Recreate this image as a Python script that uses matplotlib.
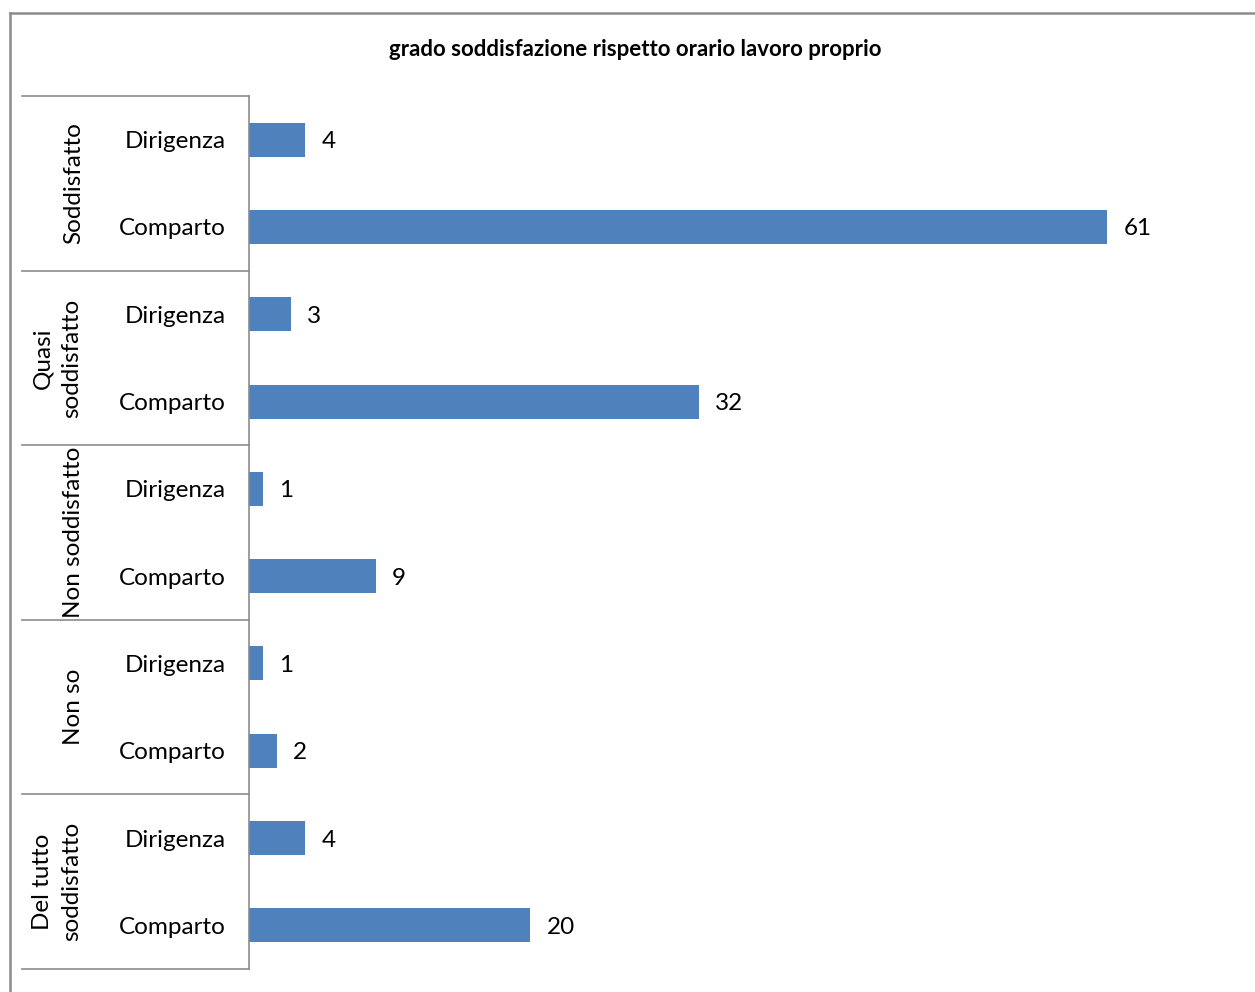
import matplotlib.pyplot as plt
from matplotlib.lines import Line2D

# Survey answers, listed top to bottom as they appear on the chart
groups = ['Soddisfatto', 'Quasi\nsoddisfatto', 'Non soddisfatto', 'Non so', 'Del tutto\nsoddisfatto']
roles = ['Dirigenza', 'Comparto']
dirigenza = [4, 3, 1, 1, 4]
comparto = [61, 32, 9, 2, 20]

title = 'grado soddisfazione rispetto orario lavoro proprio'
bar_color = '#4F81BD'
line_color = '#8C8C8C'
font = ['Lato', 'DejaVu Sans']
fs = 17.5

W, H = 1255, 992
fig = plt.figure(figsize=(W / 100, H / 100), dpi=100)

# plot area in pixels: left 249, right 1234, top 96, bottom 969
ax = fig.add_axes([249 / W, 1 - 969 / H, (1234 - 249) / W, (969 - 96) / H])

n = len(groups) * len(roles)
labels, values = [], []
for d, c in zip(dirigenza, comparto):
    labels += roles
    values += [d, c]

ypos = list(range(n))
ax.barh(ypos, values, height=0.39, color=bar_color)
ax.set_ylim(n - 0.5, -0.5)
ax.set_xlim(0, 70)

for y, v in zip(ypos, values):
    ax.annotate(str(v), (v, y), xytext=(16, 0), textcoords='offset pixels',
                va='center_baseline', ha='left', fontsize=fs, family=font)

ax.set_yticks(ypos)
ax.set_yticklabels(labels, fontsize=fs, family=font)
ax.tick_params(axis='y', length=0, pad=17)
ax.set_xticks([])
for side in ['top', 'right', 'bottom']:
    ax.spines[side].set_visible(False)
ax.spines['left'].set_color(line_color)
ax.spines['left'].set_linewidth(1.2)

# group separators and rotated group names to the left of the axis
def px_to_fig(x, y):
    return x / W, 1 - y / H

top_px, bottom_px = 96, 969
step = (bottom_px - top_px) / len(groups)
for i in range(len(groups) + 1):
    y = top_px + i * step
    x0, yf = px_to_fig(22, y)
    x1, _ = px_to_fig(249, y)
    fig.add_artist(Line2D([x0, x1], [yf, yf], color=line_color, lw=1.2))

for i, g in enumerate(groups):
    yc = top_px + (i + 0.5) * step
    xc = 74 if '\n' not in g else 57
    fx, fy = px_to_fig(xc, yc)
    fig.text(fx, fy, g, rotation=90, ha='center', va='center', fontsize=fs,
             family=font, multialignment='center', linespacing=1.45)

# outer chart frame (runs off the right and bottom edges)
fx0, fy0 = px_to_fig(10, 13)
fig.add_artist(Line2D([fx0, 1.01], [fy0, fy0], color=line_color, lw=1.8))
fig.add_artist(Line2D([fx0, fx0], [fy0, -0.01], color=line_color, lw=1.8))

tx, ty = px_to_fig(635, 49)
fig.text(tx, ty, title, ha='center', va='center', fontsize=16, fontweight='bold', family=font)

fig.savefig('out.png', dpi=100)
